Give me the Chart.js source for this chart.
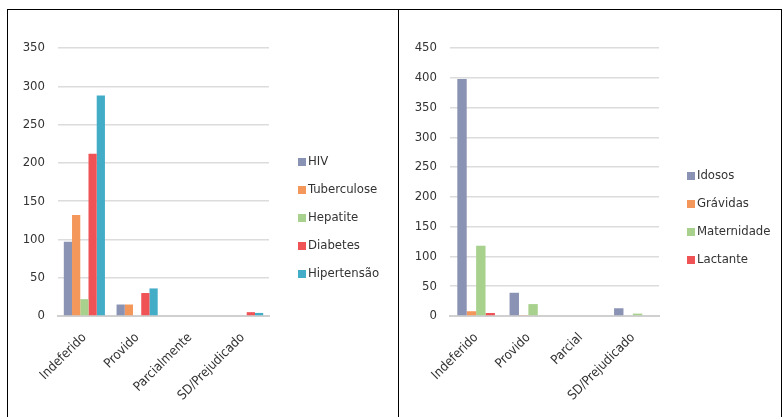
<!DOCTYPE html>
<html>
<head>
<meta charset="utf-8">
<script src="https://cdn.jsdelivr.net/npm/chart.js@4.4.0/dist/chart.umd.min.js"></script>
<style>
body { margin: 0; background: #fff; width: 782px; height: 417px; overflow: hidden; position: relative; }
.quadro { position: absolute; top: 9px; height: 430px; border: 1px solid #000; box-sizing: border-box; }
canvas { position: absolute; }
</style>
</head>
<body>
<div class="quadro" style="left:7px;width:392px"></div>
<div class="quadro" style="left:398px;width:384px"></div>
<canvas id="graficoDoencas" width="390" height="407" style="left:8px;top:10px"></canvas>
<canvas id="graficoGrupos" width="382" height="407" style="left:399px;top:10px"></canvas>
<script>
// doencas
const categoriasDoencas = ['Indeferido', 'Provido', 'Parcialmente', 'SD/Prejudicado'];
const hiv = [97, 15, 0, 0];
const tuberculose = [132, 15, 1, 1];
const hepatite = [22, 0, 0, 0];
const diabetes = [212, 30, 0, 5];
const hipertensao = [288, 36, 0, 4];
const ticksDoencas = [0, 50, 100, 150, 200, 250, 300, 350];

// grupos
const categoriasGrupos = ['Indeferido', 'Provido', 'Parcial', 'SD/Prejudicado'];
const idosos = [398, 39, 0, 13];
const gravidas = [8, 1, 0, 0];
const maternidade = [118, 20, 0, 4];
const lactante = [5, 0, 0, 0];
const ticksGrupos = [0, 50, 100, 150, 200, 250, 300, 350, 400, 450];

const fonte = "'DejaVu Sans Condensed', 'Liberation Sans Narrow', sans-serif";
const corTexto = '#333333';

const legendaLateral = {
    id: 'legendaLateral',
    afterDraw(chart, args, opts) {
        const ctx = chart.ctx;
        ctx.save();
        ctx.font = '13px ' + fonte;
        ctx.textBaseline = 'middle';
        chart.data.datasets.forEach((ds, i) => {
            let y = opts.y + i * 28;
            ctx.fillStyle = ds.backgroundColor;
            ctx.fillRect(opts.x, y - 4, 8, 8);
            ctx.fillStyle = corTexto;
            ctx.fillText(ds.label, opts.x + 10, y);
        });
        ctx.restore();
    }
};

function opcoes(maximo, marcas, larguraY, direita, legX, legY) {
    return {
        responsive: false,
        animation: false,
        layout: { padding: { top: 38, right: direita, left: 0, bottom: 0 } },
        plugins: {
            legend: { display: false },
            tooltip: { enabled: false },
            legendaLateral: { x: legX, y: legY }
        },
        scales: {
            x: {
                grid: { display: false },
                border: { color: '#d0d0d0', width: 2 },
                ticks: { color: corTexto, font: { family: fonte, size: 13 }, maxRotation: 45, minRotation: 45, padding: 6 },
                afterFit: s => { s.height = 101; }
            },
            y: {
                min: 0,
                max: maximo,
                afterBuildTicks: s => { s.ticks = marcas.map(v => ({ value: v })); },
                grid: { color: '#dcdcdc', lineWidth: 1.5, drawTicks: false },
                border: { display: false },
                ticks: { color: corTexto, font: { family: fonte, size: 13 }, padding: 13 },
                afterFit: s => { s.width = larguraY; }
            }
        }
    };
}

new Chart(document.getElementById('graficoDoencas'), {
    type: 'bar',
    data: {
        labels: categoriasDoencas,
        datasets: [
            { label: 'HIV', data: hiv, backgroundColor: '#8a93b3' },
            { label: 'Tuberculose', data: tuberculose, backgroundColor: '#f4975a' },
            { label: 'Hepatite', data: hepatite, backgroundColor: '#a9d18e' },
            { label: 'Diabetes', data: diabetes, backgroundColor: '#ef5356' },
            { label: 'Hipertensão', data: hipertensao, backgroundColor: '#43adc8' }
        ].map(d => Object.assign(d, { categoryPercentage: 0.78, barPercentage: 1 }))
    },
    options: opcoes(350, ticksDoencas, 50, 129, 290, 152),
    plugins: [legendaLateral]
});

new Chart(document.getElementById('graficoGrupos'), {
    type: 'bar',
    data: {
        labels: categoriasGrupos,
        datasets: [
            { label: 'Idosos', data: idosos, backgroundColor: '#8a93b3' },
            { label: 'Grávidas', data: gravidas, backgroundColor: '#f4975a' },
            { label: 'Maternidade', data: maternidade, backgroundColor: '#a9d18e' },
            { label: 'Lactante', data: lactante, backgroundColor: '#ef5356' }
        ].map(d => Object.assign(d, { categoryPercentage: 0.72, barPercentage: 1 }))
    },
    options: opcoes(450, ticksGrupos, 51, 122, 288, 166),
    plugins: [legendaLateral]
});
</script>
</body>
</html>
